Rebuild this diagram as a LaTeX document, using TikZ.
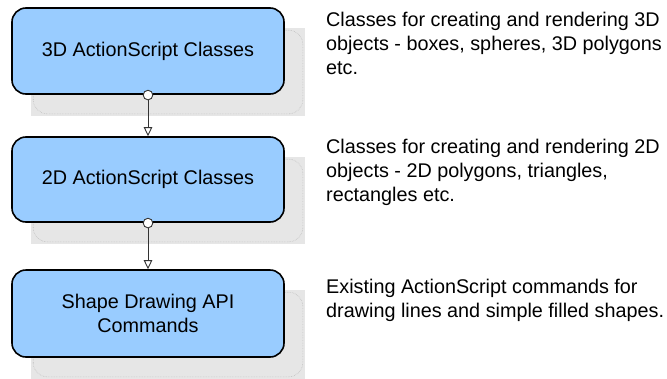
\documentclass[tikz,border=0pt]{standalone}
\usepackage{fontspec}
\setmainfont{Liberation Sans}
\usetikzlibrary{arrows.meta,backgrounds}
\definecolor{boxblue}{HTML}{99CCFF}
\definecolor{shadowgray}{HTML}{E6E6E6}

\begin{document}
\begin{tikzpicture}[x=1pt,y=-1pt,font=\fontsize{19.8}{24}\selectfont,
    link/.style={draw=black!80,line width=0.9pt,shorten <=-5pt,
       {Circle[open,length=10.5pt,width=10.5pt,fill=white]}-{Triangle[open,length=9pt,width=8.5pt,fill=white]}}]
   \useasboundingbox (0,0) rectangle (667,378);
   \begin{scope}[every node/.style={rectangle,rounded corners=14pt,draw=black,line width=1.6pt,
       fill=boxblue,minimum width=272pt,align=center,inner sep=0pt}]
    \node[minimum height=86pt] (b1) at (148,51) {3D ActionScript Classes};
    \node[minimum height=85pt] (b2) at (148,179.5) {2D ActionScript Classes};
    \node[minimum height=87pt] (b3) at (148,313.5) {Shape Drawing API\\Commands};
   \end{scope}
   \begin{scope}[on background layer]
    \foreach \b in {b1,b2,b3} {
      \fill[shadowgray] ([shift={(20pt,-21pt)}]\b.south west) rectangle ([shift={(20pt,-21pt)}]\b.north east);
      \draw[black!25,densely dotted,line width=0.6pt,rounded corners=14pt]
        ([shift={(22pt,-19pt)}]\b.south west) rectangle ([shift={(18pt,-23pt)}]\b.north east);
    }
   \end{scope}
   \begin{scope}[every node/.style={anchor=north west,align=left,inner sep=0pt}]
    \node (d1) at (326,12) {Classes for creating and rendering 3D\\objects - boxes, spheres, 3D polygons\\etc.};
    \node (d2) at (326,139) {Classes for creating and rendering 2D\\objects - 2D polygons, triangles,\\rectangles etc.};
    \node (d3) at (326,279) {Existing ActionScript commands for\\drawing lines and simple filled shapes.};
   \end{scope}
   \draw[link] (b1) -- (b2);
   \draw[link] (b2) -- (b3);
\end{tikzpicture}
\end{document}
